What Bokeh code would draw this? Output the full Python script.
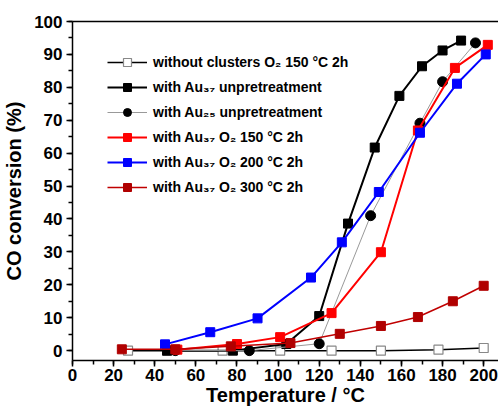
from bokeh.plotting import figure
from bokeh.models import Range1d, LinearAxis, FixedTicker, Legend, LegendItem
from bokeh.embed import file_html
from bokeh.resources import INLINE

# ---- data ----
x_none = [27, 46, 73, 101, 126, 150, 178, 200]
y_none = [0, 0, 0, 0, 0, 0, 0.3, 0.8]

x_au37 = [46, 78, 104, 120, 134, 147, 159, 170, 180, 189]
y_au37 = [0, 0, 2.0, 10.5, 38.6, 61.7, 77.4, 86.4, 91.2, 94.2]

x_au25 = [50, 86, 120, 145, 169, 180, 196]
y_au25 = [0, 0, 2.1, 41.0, 69.1, 81.7, 93.5]

x_o150 = [51, 80, 101, 126, 150, 168, 186, 202]
y_o150 = [0.3, 2.0, 4.1, 11.4, 29.9, 66.9, 85.9, 92.9]

x_o200 = [45, 67, 90, 116, 131, 149, 169, 187, 201]
y_o200 = [1.9, 5.6, 9.8, 22.2, 32.9, 48.2, 66.2, 81.1, 90.0]

x_o300 = [24, 50, 77, 106, 130, 150, 168, 185, 200]
y_o300 = [0.4, 0.4, 1.3, 2.3, 5.1, 7.5, 10.2, 15.0, 19.7]

labels = [
    "without clusters O\u2082 150 \u00b0C 2h",
    "with Au\u2083\u2087 unpretreatment",
    "with Au\u2082\u2085 unpretreatment",
    "with Au\u2083\u2087 O\u2082 150 \u00b0C 2h",
    "with Au\u2083\u2087 O\u2082 200 \u00b0C 2h",
    "with Au\u2083\u2087 O\u2082 300 \u00b0C 2h",
]

x_ticks = list(range(0, 201, 20))
y_ticks = list(range(0, 101, 10))
x_title = "Temperature / \u00b0C"
y_title = "CO conversion (%)"

FONT = "Liberation Sans"

p = figure(width=498, height=408, output_backend="svg", toolbar_location=None,
           x_range=Range1d(0, 207.2), y_range=Range1d(-3, 100),
           min_border_left=68, min_border_right=0, min_border_top=21, min_border_bottom=40)
p.outline_line_color = None
p.grid.visible = False
p.background_fill_color = "white"
p.border_fill_color = "white"

for ax in (p.xaxis[0], p.yaxis[0]):
    ax.axis_line_width = 1.5
    ax.axis_line_color = "black"
    ax.major_tick_line_color = "black"
    ax.minor_tick_line_color = "black"
    ax.major_tick_line_width = 1.5
    ax.minor_tick_line_width = 1.5
    ax.major_tick_out = 6
    ax.major_tick_in = 0
    ax.minor_tick_out = 4
    ax.minor_tick_in = 0
    ax.major_label_text_font = FONT
    ax.major_label_text_font_style = "bold"
    ax.major_label_text_font_size = "17px"
    ax.major_label_text_color = "black"
    ax.axis_label_text_font = FONT
    ax.axis_label_text_font_style = "bold"
    ax.axis_label_text_font_size = "20px"
    ax.axis_label_text_color = "black"

p.xaxis[0].ticker = FixedTicker(ticks=x_ticks, minor_ticks=list(range(0, 210, 10)))
p.yaxis[0].ticker = FixedTicker(ticks=y_ticks, minor_ticks=list(range(0, 101, 5)))
p.xaxis[0].axis_label = x_title
p.yaxis[0].axis_label = y_title
p.xaxis[0].major_label_standoff = 2
p.xaxis[0].axis_label_standoff = 0
p.yaxis[0].major_label_standoff = 4
p.yaxis[0].axis_label_standoff = 6

top = LinearAxis(ticker=FixedTicker(ticks=[]), axis_line_width=1.5,
                 major_label_text_font_size="0px", axis_label=None)
p.add_layout(top, "above")

items = []

r = p.line(x_none, y_none, line_color="black", line_width=1.5)
s = p.scatter(x_none, y_none, marker="square", size=9, fill_color="white",
              line_color="#888888", line_width=1.2)
items.append(LegendItem(label=labels[0], renderers=[r, s]))

r = p.line(x_au37, y_au37, line_color="black", line_width=2)
s = p.scatter(x_au37, y_au37, marker="square", size=9, fill_color="black", line_color="black")
items.append(LegendItem(label=labels[1], renderers=[r, s]))

r = p.line(x_au25, y_au25, line_color="#999999", line_width=1)
s = p.scatter(x_au25, y_au25, marker="circle", size=10, fill_color="black", line_color="black")
items.append(LegendItem(label=labels[2], renderers=[r, s]))

r = p.line(x_o150, y_o150, line_color="#ff0000", line_width=2)
s = p.scatter(x_o150, y_o150, marker="square", size=9, fill_color="#ff0000", line_color="#ff0000")
items.append(LegendItem(label=labels[3], renderers=[r, s]))

r = p.line(x_o200, y_o200, line_color="#0000ff", line_width=2)
s = p.scatter(x_o200, y_o200, marker="square", size=9, fill_color="#0000ff", line_color="#0000ff")
items.append(LegendItem(label=labels[4], renderers=[r, s]))

r = p.line(x_o300, y_o300, line_color="#c00000", line_width=1.5)
s = p.scatter(x_o300, y_o300, marker="square", size=9, fill_color="#b00000", line_color="#b00000")
items.append(LegendItem(label=labels[5], renderers=[r, s]))

legend = Legend(items=items, location=(35, 163), padding=0, margin=0,
                spacing=5, glyph_width=40, glyph_height=20, label_height=20,
                label_standoff=6, label_text_font=FONT, label_text_font_style="bold",
                label_text_font_size="14px", label_text_color="black",
                border_line_color=None, background_fill_alpha=0)
p.add_layout(legend, "center")

with open("out.html", "w") as f:
    f.write(file_html(p, INLINE))
